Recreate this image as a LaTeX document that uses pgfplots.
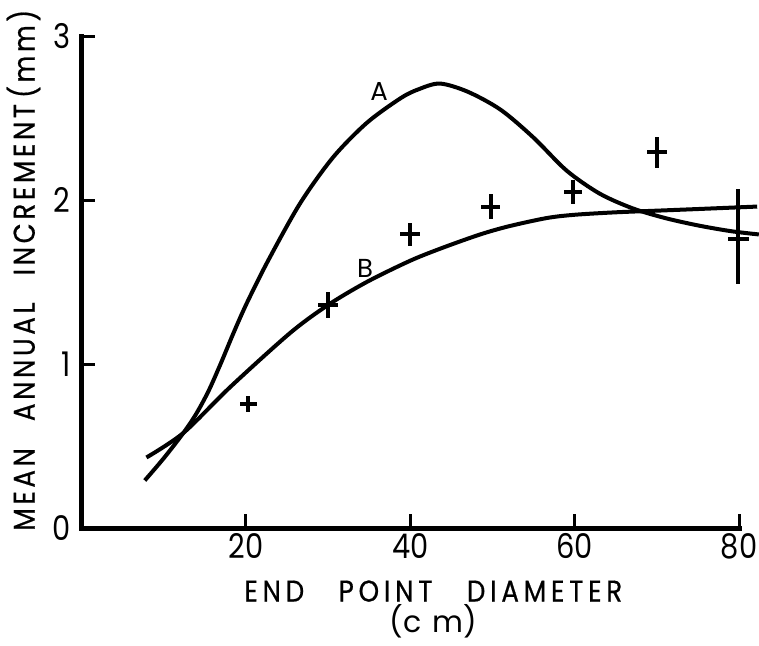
\documentclass[border=0pt]{standalone}
\usepackage{pgfplots}
\pgfplotsset{compat=1.18}
\usepackage{fontspec}
\setmainfont{Poppins}
\newfontfamily\tickfont[FakeStretch=0.85]{Poppins}
\newfontfamily\xlblfont[LetterSpace=16, FakeStretch=0.87, FakeBold=0.6]{Poppins}
\newfontfamily\ylblfont[LetterSpace=12, FakeStretch=0.87, FakeBold=0.6]{Poppins}
\usetikzlibrary{calc}

\begin{document}
\begin{tikzpicture}
\begin{axis}[
    x=4.11pt, y=82pt,
    xmin=0, xmax=80, ymin=0, ymax=3,
    axis lines=left,
    axis line style={-, line width=2.5pt, line cap=rect},
    xtick={20,40,60,80},
    ytick={0,1,2,3},
    tick align=inside,
    major tick length=7pt,
    tick style={line width=1.5pt, black},
    tick label style={font=\tickfont\fontsize{17}{17}\selectfont},
    /pgf/number format/assume math mode=true,
    xticklabel style={yshift=1pt},
    yticklabel style={xshift=-2pt},
    clip=false,
    xlabel={\xlblfont END\hspace{1.15em}POINT\hspace{1.15em}DIAMETER\\(c\hspace{0.35em}m)},
    xlabel style={at={(axis description cs:0.535,0)}, anchor=north, yshift=-26pt,
        align=center, inner sep=0pt, font=\fontsize{15}{15.5}\selectfont},
    ylabel={\ylblfont MEAN\hspace{0.9em}ANNUAL\hspace{0.9em}INCREMENT\hspace{0.2em}(mm)},
    ylabel style={at={(axis description cs:0,0.524)}, anchor=center,
        yshift=29pt, inner sep=0pt, font=\fontsize{15}{16}\selectfont},
]
\coordinate (o) at (axis cs:0,0);

% curve A
\addplot[black, line width=2pt, smooth] coordinates {
    (7.7,0.29) (10,0.425) (12.4,0.58) (14,0.70) (15.5,0.84) (17,1.01)
    (18.5,1.19) (20.1,1.37) (22.7,1.63) (26.6,1.98) (30.6,2.26) (34.7,2.47)
    (38.8,2.62) (41,2.675) (43.6,2.71) (47,2.66) (51,2.55) (55,2.38)
    (59,2.18) (63,2.04) (67,1.95) (71,1.89) (75,1.845) (79,1.81) (82.4,1.79)
};
% curve B
\addplot[black, line width=2pt, smooth] coordinates {
    (7.9,0.43) (12.4,0.58) (18.1,0.86) (25.4,1.19) (30,1.36) (34.7,1.50)
    (40,1.63) (44,1.71) (48.5,1.79) (52,1.84) (56.6,1.89) (60,1.91)
    (65,1.925) (70,1.935) (75,1.945) (82.2,1.96)
};
% observed points
\addplot[black, draw=none, no markers,
    error bars/.cd, x dir=both, x explicit, y dir=both, y explicit,
    error mark=none, error bar style={draw=black, line width=2pt, line cap=butt}] coordinates {
    (20.3,0.756) +- (1.0,0.05)
    (30,1.36) +- (1.2,0.08)
    (40,1.79) +- (1.2,0.068)
    (49.8,1.96) +- (1.15,0.076)
    (59.8,2.05) +- (1.1,0.073)
    (70,2.29) +- (1.2,0.095)
    (79.9,1.76) += (1.3,0.31) -= (1.3,0.27)
};

\node[font=\fontsize{13}{13}\selectfont] at (axis cs:36.2,2.66) {A};
\node[font=\fontsize{13}{13}\selectfont] at (axis cs:34.5,1.58) {B};
\end{axis}
\pgfresetboundingbox
\path[use as bounding box] ($(o)+(-40.75pt,-58.5pt)$) rectangle ($(o)+(338.75pt,264pt)$);
\end{tikzpicture}
\end{document}
